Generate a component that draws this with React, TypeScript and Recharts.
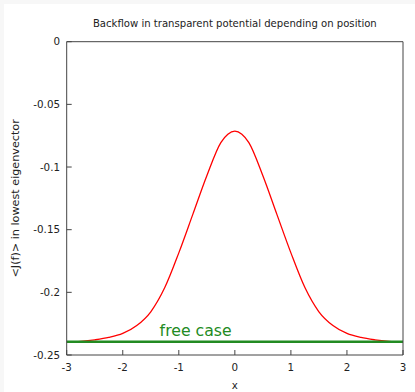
import React from 'react';
import { LineChart, Line, XAxis, YAxis, ReferenceLine, ReferenceDot, Label } from 'recharts';

const X_VALUES = [-3, -2.75, -2.5, -2.25, -2, -1.75, -1.5, -1.25, -1, -0.75, -0.5, -0.25, -0.125, 0, 0.125, 0.25, 0.5, 0.75, 1, 1.25, 1.5, 1.75, 2, 2.25, 2.5, 2.75, 3];
const BACKFLOW = [-0.24, -0.2392, -0.2379, -0.236, -0.2328, -0.2265, -0.2155, -0.1962, -0.1685, -0.1378, -0.107, -0.0805, -0.0738, -0.0713, -0.0738, -0.0805, -0.107, -0.1378, -0.1685, -0.1962, -0.2155, -0.2265, -0.2328, -0.236, -0.2379, -0.2392, -0.24];
const FREE_CASE = -0.2395;
const FREE_LABEL_X = -0.7;
const X_TICKS = [-3, -2, -1, 0, 1, 2, 3];
const Y_TICKS = [0, -0.05, -0.1, -0.15, -0.2, -0.25];
const TITLE = 'Backflow in transparent potential depending on position';
const X_LABEL = 'x';
const Y_LABEL = '<J(f)> in lowest eigenvector';
const FREE_TEXT = 'free case';

const data = X_VALUES.map((x, i) => ({ x, backflow: BACKFLOW[i], mirror: BACKFLOW[i] }));

const FONT = '"DejaVu Sans", sans-serif';
const AXIS_COLOR = '#444';
const TEXT_COLOR = '#222';
const tickStyle = { fontSize: 10.3, fill: TEXT_COLOR, fontFamily: FONT };

export default function App() {
  return (
    <div style={{ position: 'absolute', left: 0, top: 0, width: 415, height: 392, background: '#f7f7f7', fontFamily: FONT }}>
      <div style={{ position: 'absolute', left: 4, top: 4, width: 411, height: 388, background: '#fff' }}>
        <LineChart width={411} height={388} data={data} margin={{ top: 36.7, right: 11, bottom: 7, left: 2.7 }}>
          <XAxis dataKey="x" type="number" domain={[-3, 3]} ticks={X_TICKS} xAxisId="bottom" height={30}
            stroke={AXIS_COLOR} tickSize={-5} tickMargin={14} tick={tickStyle} allowDataOverflow>
            <Label value={X_LABEL} position="insideBottom" offset={-4} style={{ fontSize: 10.3, fill: TEXT_COLOR, fontFamily: FONT }} />
          </XAxis>
          <XAxis dataKey="x" xAxisId="top" orientation="top" type="number" domain={[-3, 3]} ticks={X_TICKS} height={1}
            stroke={AXIS_COLOR} tickSize={-5} tick={false} allowDataOverflow>
            <Label value={TITLE} position="top" offset={13.7} style={{ fontSize: 10.1, fill: TEXT_COLOR, fontFamily: FONT }} />
          </XAxis>
          <YAxis yAxisId="left" type="number" domain={[-0.25, 0]} ticks={Y_TICKS} width={60}
            stroke={AXIS_COLOR} tickSize={-5} tickMargin={11.7} tick={tickStyle} allowDataOverflow>
            <Label value={Y_LABEL} angle={-90} position="insideLeft" offset={8.3}
              style={{ textAnchor: 'middle', fontSize: 11.2, fill: TEXT_COLOR, fontFamily: FONT }} />
          </YAxis>
          <YAxis yAxisId="right" orientation="right" type="number" domain={[-0.25, 0]} ticks={Y_TICKS} width={1}
            stroke={AXIS_COLOR} tickSize={-5} tick={false} allowDataOverflow />
          <Line xAxisId="top" yAxisId="right" type="monotone" dataKey="mirror" stroke="none" strokeWidth={0}
            dot={false} activeDot={false} isAnimationActive={false} legendType="none" />
          <Line xAxisId="bottom" yAxisId="left" type="monotone" dataKey="backflow" stroke="#ff0000" strokeWidth={1.3}
            dot={false} isAnimationActive={false} />
          <ReferenceLine xAxisId="bottom" yAxisId="left" y={FREE_CASE} stroke="#228b22" strokeWidth={2.5} />
          <ReferenceDot xAxisId="bottom" yAxisId="left" x={FREE_LABEL_X} y={FREE_CASE} r={0} fill="none" stroke="none"
            label={{ value: FREE_TEXT, position: 'top', offset: 5.4, style: { fontSize: 15.7, fill: '#228b22', fontFamily: FONT } }} />
        </LineChart>
      </div>
    </div>
  );
}
